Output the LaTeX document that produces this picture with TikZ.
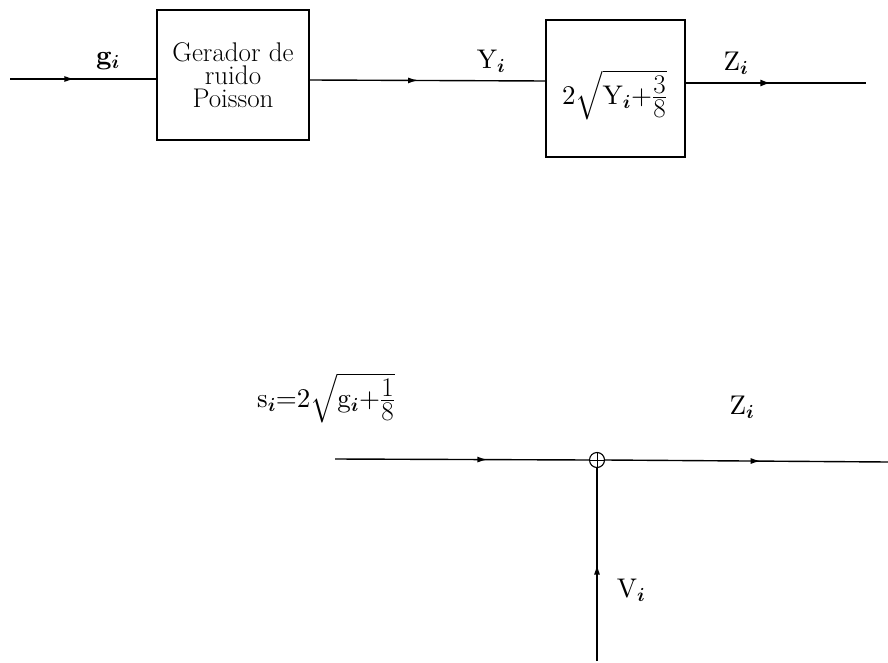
\documentclass[tikz,border=0pt]{standalone}
\usepackage{amsmath,amssymb}
\DeclareFontShape{OML}{cmm}{m}{it}{<->cmmi10}{}
\DeclareFontShape{OML}{cmm}{b}{it}{<->cmmib10}{}
\DeclareFontShape{OT1}{cmr}{m}{n}{<->cmr10}{}
\DeclareFontShape{OT1}{cmr}{bx}{n}{<->cmbx10}{}
\DeclareFontShape{OMS}{cmsy}{m}{n}{<->cmsy10}{}
\DeclareFontShape{OMS}{cmsy}{b}{n}{<->cmbsy10}{}
\newcommand{\tightfrac}[2]{\genfrac{}{}{}{1}{\mbox{#1}}{\mbox{#2}}}
\usetikzlibrary{arrows.meta,decorations.markings}
\begin{document}
\begin{tikzpicture}[x=1pt,y=-1pt,
  every node/.style={font=\fontsize{27}{23}\selectfont},
  blk/.style={draw,line width=1.3pt,inner sep=0pt,align=center},
  sig/.style={line width=1.4pt},
  midarrow/.style={postaction={decorate},decoration={markings,
     mark=at position #1 with {\arrow{Latex[length=10pt,width=6pt]}}}},
  midopen/.style={postaction={decorate},decoration={markings,
     mark=at position #1 with {\arrow{Latex[open,length=10pt,width=7pt]}}}},
  lbl/.style={inner sep=0pt}]
\useasboundingbox (0,0) rectangle (888,663);
% top row
\coordinate (in) at (10,79);
\node[blk,minimum width=152pt,minimum height=130pt] (b1) at (233,75)
  {Gerador de\\ruido\\Poisson};
\node[blk,minimum width=139pt,minimum height=137pt] (b2) at (615.5,88.5) {};
\node[lbl] (f2) at (614.5,95)
  {$2\sqrt{\mathrm{Y}_{\boldsymbol{i}}{+}\tightfrac{3}{8}}$};
\coordinate (out) at (866,83);
\draw[sig,midarrow=0.44] (in) -- (in -| b1.west);
\draw[sig,midarrow=0.46] (b1.east |- 0,80) -- (b2.west |- 0,81);
\draw[sig,midopen=0.47] (b2.east |- out) -- (out);
\node[lbl] (lg) at (108,61) {$\mathbf{g}_{\boldsymbol{i}}$};
\node[lbl] (ly) at (491,61) {$\mathrm{Y}_{\boldsymbol{i}}$};
\node[lbl] (lz) at (736,63) {$\mathrm{Z}_{\boldsymbol{i}}$};
% bottom row
\coordinate (sin) at (335,459);
\node[draw,circle,line width=1.1pt,minimum size=15pt,inner sep=0pt] (sum) at (597,460) {};
\draw[line width=1pt] (sum.north) -- (sum.south) (sum.west) -- (sum.east);
\coordinate (sout) at (888,462);
\coordinate (vin) at (597,661);
\draw[sig,midarrow=0.6] (sin) -- (sum.west);
\draw[sig,midarrow=0.55] (sum.east) -- (sout);
\draw[sig,midarrow=0.5] (vin) -- (sum.south);
\node[lbl] (ls) at (326,398) {$\mathrm{s}_{\boldsymbol{i}}{=}2\sqrt{\mathrm{g}_{\boldsymbol{i}}{+}\tightfrac{1}{8}}$};
\node[lbl] (lz2) at (742,407) {$\mathrm{Z}_{\boldsymbol{i}}$};
\node[lbl] (lv) at (631,590) {$\mathrm{V}_{\boldsymbol{i}}$};
\end{tikzpicture}
\end{document}
